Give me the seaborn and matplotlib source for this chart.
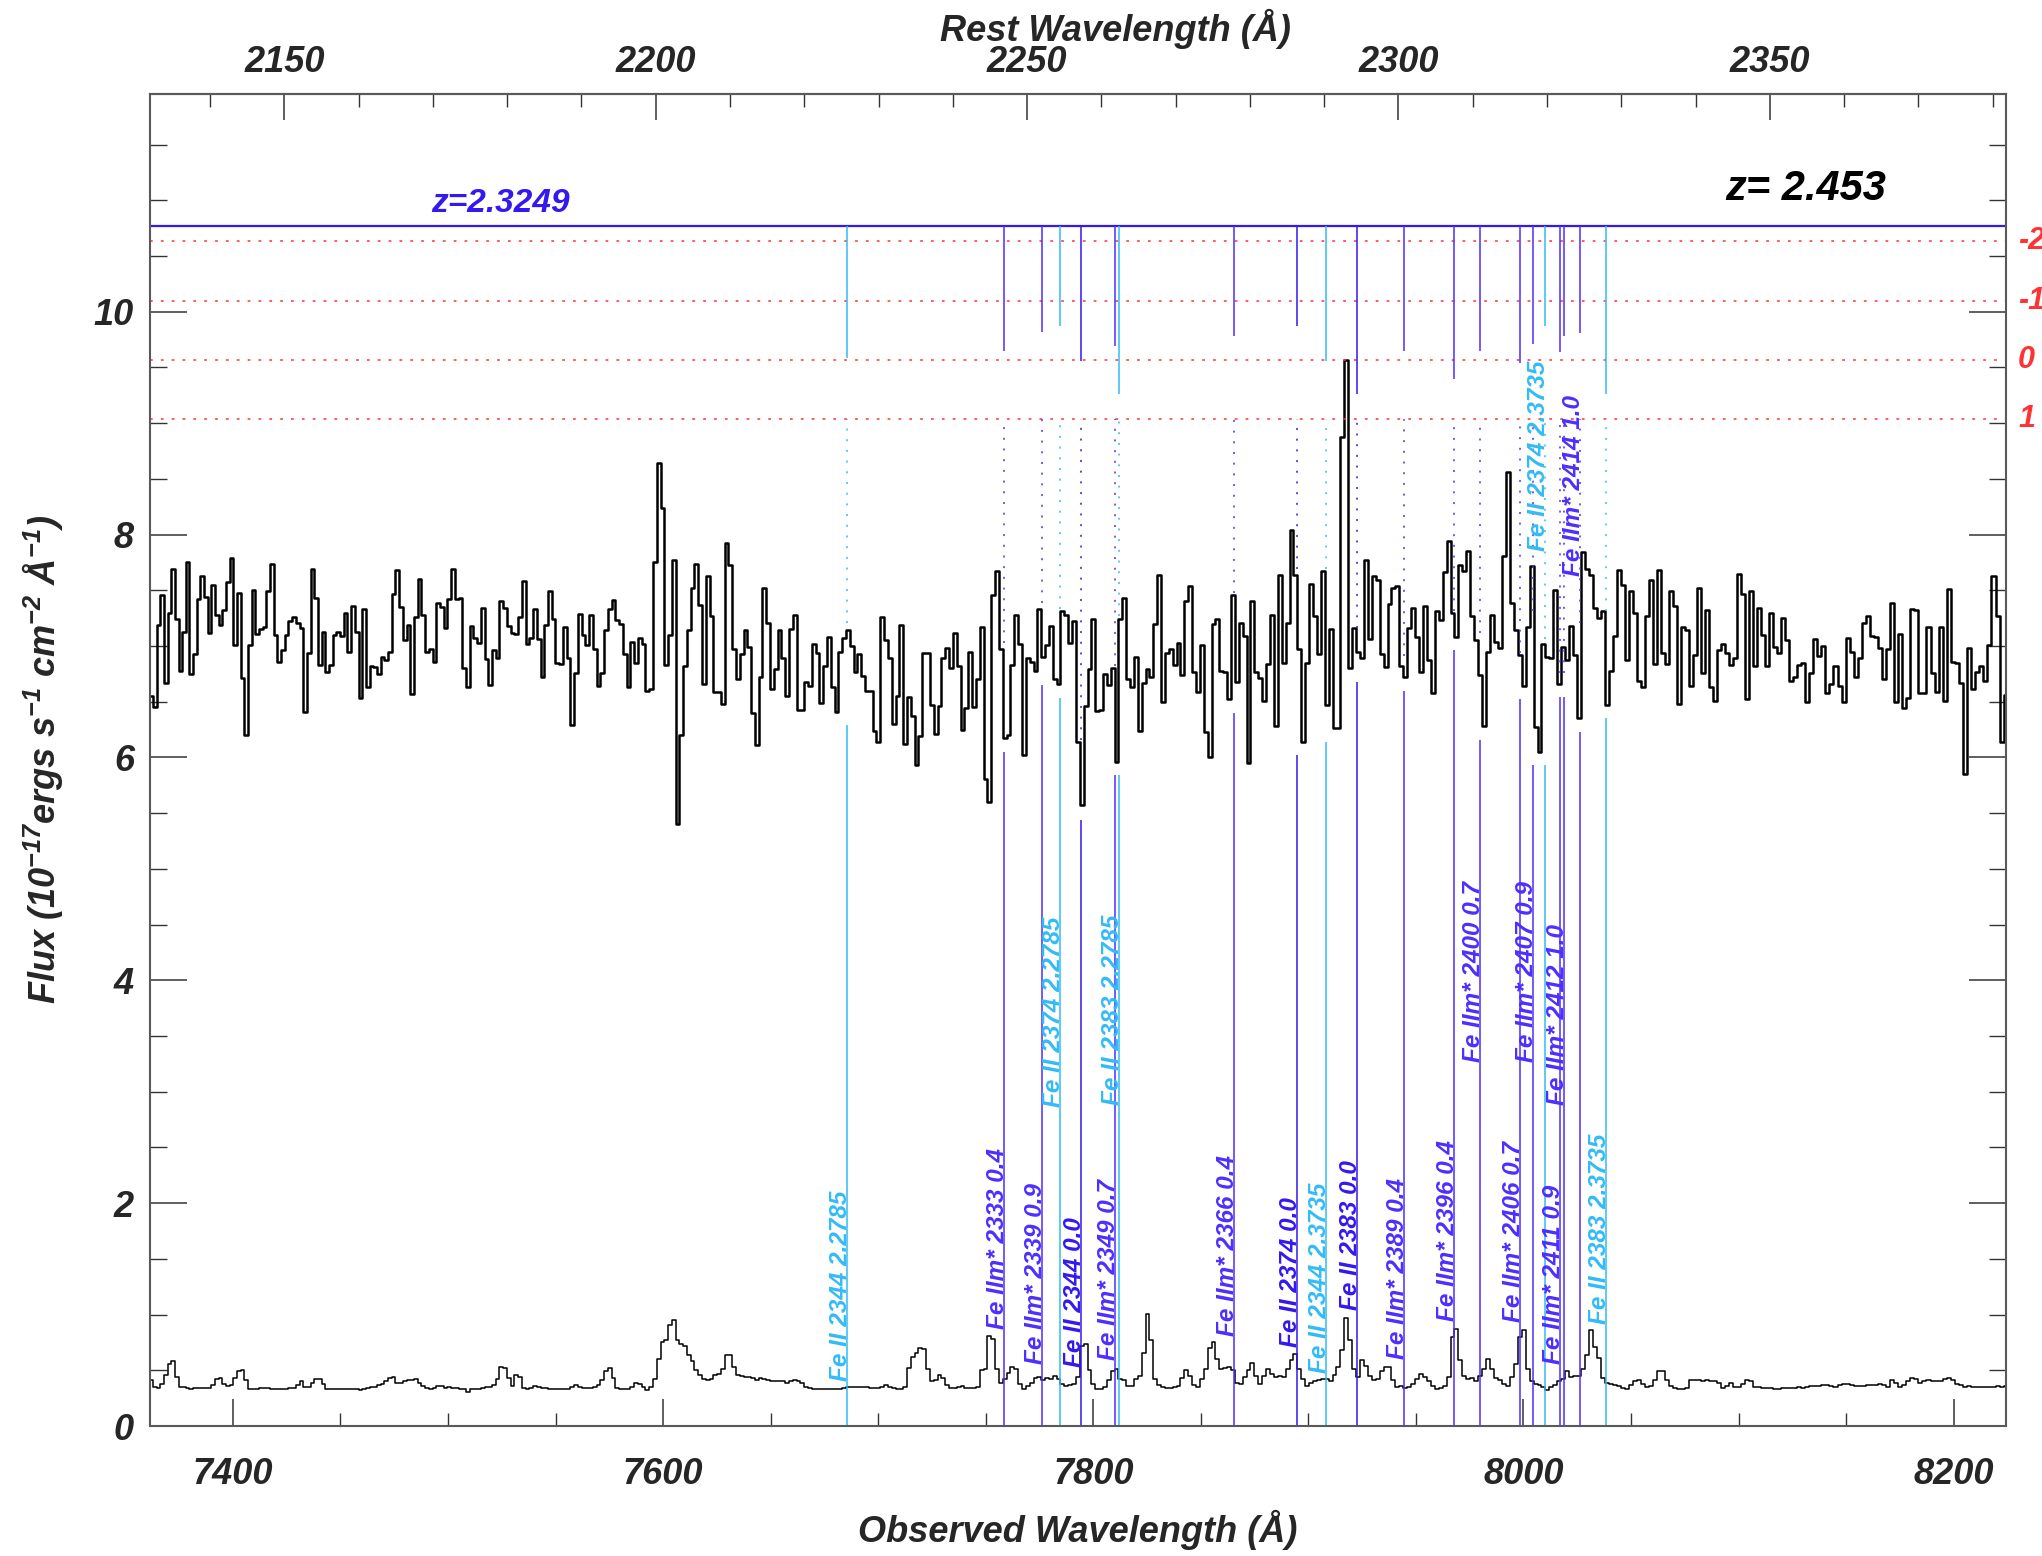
import numpy as np
import matplotlib
matplotlib.use('Agg')
import matplotlib.pyplot as plt
import matplotlib.transforms as mtransforms
from matplotlib.ticker import MultipleLocator
import seaborn as sns

sns.set_style('white')
# IDL look: Helvetica-like bold italic everywhere
plt.rcParams['font.family'] = ['Liberation Sans', 'DejaVu Sans']
plt.rcParams['font.weight'] = 'bold'
plt.rcParams['font.style'] = 'italic'
plt.rcParams['axes.labelweight'] = 'bold'
plt.rcParams['mathtext.fontset'] = 'custom'
plt.rcParams['mathtext.rm'] = 'Liberation Sans:bold:italic'
plt.rcParams['mathtext.it'] = 'Liberation Sans:bold:italic'
plt.rcParams['mathtext.bf'] = 'Liberation Sans:bold:italic'
plt.rcParams['mathtext.default'] = 'rm'

# ==========================================
# data
# ==========================================
Z_QSO = 2.453
Z_ABS = 2.3249
COEFF0 = np.log10(7362.0)   # SDSS style log-lambda grid
COEFF1 = 1e-4

flux = [
    6.55, 6.45, 7.19, 7.46, 6.67, 7.30, 7.69, 7.24, 6.78, 7.13,
    7.75, 6.75, 6.93, 7.42, 7.63, 7.44, 7.12, 7.55, 7.28, 7.19,
    7.32, 7.57, 7.79, 7.01, 7.48, 6.71, 6.20, 7.01, 7.50, 7.11,
    7.15, 7.17, 7.49, 7.74, 7.10, 6.86, 6.96, 7.10, 7.22, 7.26,
    7.21, 7.16, 6.41, 6.94, 7.69, 7.43, 6.83, 7.13, 6.77, 6.83,
    7.10, 7.13, 7.09, 7.30, 6.95, 7.36, 7.13, 6.53, 7.33, 6.63,
    6.82, 6.81, 6.75, 6.90, 6.87, 6.95, 7.47, 7.68, 7.35, 7.05,
    7.19, 6.57, 7.26, 7.60, 7.28, 6.95, 6.97, 6.86, 7.39, 7.35,
    7.16, 7.42, 7.69, 7.42, 7.43, 6.80, 6.63, 7.18, 7.07, 7.03,
    7.34, 6.88, 6.65, 6.96, 6.89, 7.40, 7.34, 7.18, 7.12, 7.11,
    7.26, 7.58, 7.02,
    7.07, 7.33, 7.06, 6.72, 7.19, 7.49, 7.24, 6.85, 6.84, 7.17,
    6.89, 6.29, 6.76, 7.29, 7.10, 7.01, 7.28, 6.97, 6.64, 6.76,
    7.14, 7.33, 7.41, 7.23, 7.20, 6.93, 6.63, 7.04, 6.85, 7.07,
    7.02, 6.60, 6.61, 7.75, 8.64, 8.24, 6.83, 7.10, 7.77, 5.40,
    6.20, 6.82, 7.14, 7.52, 7.74, 7.37, 6.66, 7.63, 7.27, 6.59,
    6.59, 6.48, 7.92, 7.73, 6.97, 6.70, 6.93, 7.14, 6.99, 6.40,
    6.11, 6.72, 7.52, 7.21, 6.61, 6.79, 7.14, 6.89, 6.55, 7.15,
    7.28, 6.43, 6.43, 6.68, 6.64, 7.02, 6.94, 6.49, 6.82, 7.08,
    6.63, 6.41, 6.95, 7.07, 7.14, 7.00, 6.77, 6.93, 6.73, 6.60,
    6.60, 6.24, 6.14, 7.26, 7.05, 6.89, 6.30, 6.55, 7.19, 6.12,
    6.54,
    6.37, 5.93, 6.19, 6.94, 6.94, 6.47, 6.21, 6.46, 6.89, 6.98,
    6.80, 7.12, 6.82, 6.25, 6.44, 6.95, 6.45, 6.70, 7.17, 5.81,
    5.60, 7.46, 7.67, 6.97, 6.17, 6.20, 6.83, 7.28, 7.02, 6.02,
    6.89, 6.86, 6.78, 7.33, 6.90, 7.01, 7.18, 6.70, 6.66, 7.31,
    7.28, 7.03, 7.22, 6.14, 5.57, 6.46, 6.79, 7.24, 6.42, 6.43,
    6.75, 6.65, 6.80, 5.96, 7.24, 7.43, 6.70, 6.63, 6.90, 6.24,
    6.67, 6.79, 6.72, 7.20, 7.64, 6.50, 6.94, 6.97, 6.83, 7.03,
    6.74, 7.40, 7.54, 6.77, 6.59, 7.01, 6.23, 6.00, 7.20, 7.24,
    6.78, 6.77, 6.52, 7.46, 6.68, 7.21, 7.09, 5.95, 7.40, 6.77,
    6.71, 6.51, 6.84, 7.28, 6.28, 7.64, 6.85, 7.21,
    8.04, 7.64, 6.97, 6.14, 6.85, 7.56, 7.27, 6.93, 7.67, 6.47,
    7.15, 6.26, 6.26, 8.88, 9.57, 6.80, 7.16, 6.95, 6.89, 7.77,
    7.06, 7.63, 7.59, 6.93, 6.81, 7.38, 7.52, 7.54, 6.82, 6.72,
    7.16, 7.34, 7.08, 6.77, 7.36, 6.87, 6.58, 7.31, 7.23, 7.66,
    7.94, 7.30, 7.08, 7.73, 7.67, 7.85, 7.27, 7.05, 6.74, 6.28,
    6.95, 7.28, 7.04, 6.98, 7.81, 8.56, 7.39, 7.14, 6.92, 6.64,
    7.17, 7.72, 6.27, 6.05, 7.02, 6.90, 6.89, 7.50, 6.66, 6.99,
    6.87, 7.18, 6.92, 6.35, 7.84, 7.69, 7.64, 7.34, 7.25, 7.31,
    6.47, 6.78, 7.09, 7.68, 7.55, 6.87, 7.49, 7.30, 6.69, 6.63,
    7.27, 7.59, 6.84, 7.68, 6.94, 6.84, 7.49,
    7.36, 6.48, 7.17, 7.14, 6.64, 6.92, 7.52, 6.76, 7.32, 6.63,
    6.51, 6.96, 7.02, 6.94, 6.83, 6.89, 7.65, 7.47, 6.52, 7.49,
    6.82, 7.34, 7.10, 6.82, 7.30, 6.99, 6.94, 7.25, 7.05, 6.69,
    6.72, 6.83, 6.85, 6.50, 6.76, 7.06, 6.91, 7.00, 6.58, 6.66,
    6.82, 6.64, 6.50, 7.07, 6.95, 6.72, 6.89, 7.21, 7.27, 7.09,
    7.08, 6.98, 6.70, 6.97, 7.39, 6.50, 7.11, 6.44, 6.53, 7.33,
    7.32, 6.58, 6.58, 7.17, 6.76, 6.59, 7.17, 6.51, 7.51, 6.86,
    6.85, 6.67, 5.85, 6.98, 6.61, 6.77, 6.82, 6.69, 7.01, 7.63,
    7.27, 6.14, 6.56,
]

flux_err = [
    0.41, 0.35, 0.34, 0.38, 0.46, 0.56, 0.58, 0.44, 0.35, 0.35,
    0.34, 0.33, 0.34, 0.34, 0.34, 0.34, 0.34, 0.37, 0.42, 0.43,
    0.38, 0.36, 0.37, 0.43, 0.49, 0.50, 0.41, 0.33, 0.33, 0.33,
    0.34, 0.34, 0.34, 0.33, 0.33, 0.33, 0.33, 0.33, 0.34, 0.34,
    0.37, 0.40, 0.35, 0.35, 0.39, 0.42, 0.42, 0.38, 0.33, 0.33,
    0.33, 0.33, 0.33, 0.33, 0.33, 0.33, 0.33, 0.32, 0.33, 0.34,
    0.35, 0.35, 0.37, 0.38, 0.40, 0.43, 0.44, 0.39, 0.39, 0.40,
    0.41, 0.41, 0.42, 0.39, 0.36, 0.34, 0.33, 0.34, 0.36, 0.36,
    0.34, 0.35, 0.34, 0.34, 0.33, 0.33, 0.31, 0.33, 0.33, 0.33,
    0.34, 0.35, 0.35, 0.37, 0.42, 0.53, 0.52, 0.43, 0.36, 0.46,
    0.44, 0.34, 0.33, 0.34, 0.36, 0.35, 0.34, 0.34, 0.33, 0.33,
    0.33, 0.33, 0.33,
    0.33,
    0.35, 0.37, 0.35, 0.34, 0.34, 0.34, 0.35, 0.37, 0.41, 0.49,
    0.52, 0.43, 0.34, 0.33, 0.33, 0.33, 0.35, 0.39, 0.38, 0.35,
    0.32, 0.35, 0.42, 0.60, 0.75, 0.77, 0.91, 0.95, 0.77, 0.74,
    0.72, 0.64, 0.58, 0.50, 0.46, 0.42, 0.41, 0.42, 0.46, 0.47,
    0.51, 0.64, 0.64, 0.53, 0.46, 0.45, 0.44, 0.44, 0.43, 0.41,
    0.43, 0.42, 0.41, 0.40, 0.40, 0.40, 0.40, 0.39, 0.40, 0.41,
    0.40, 0.39, 0.35, 0.34, 0.33, 0.33, 0.33, 0.33, 0.33, 0.33,
    0.33, 0.33,
    0.34, 0.35, 0.35, 0.35, 0.35, 0.35, 0.35, 0.34, 0.34, 0.34, 0.35,
    0.37, 0.35, 0.34, 0.33, 0.33, 0.35, 0.52, 0.62, 0.66, 0.70,
    0.69, 0.51, 0.40, 0.41, 0.46, 0.43, 0.37, 0.34, 0.34, 0.35,
    0.36, 0.34, 0.34,
    0.34, 0.35,
    0.50, 0.51, 0.81, 0.78, 0.51, 0.39, 0.42, 0.48, 0.53, 0.51,
    0.38, 0.33, 0.36, 0.39, 0.43, 0.44, 0.41, 0.43, 0.42,
    0.45, 0.42, 0.38, 0.36, 0.37, 0.38, 0.44, 0.72, 0.74, 0.50,
    0.38, 0.33, 0.33, 0.35, 0.41, 0.49, 0.51, 0.42, 0.41, 0.36,
    0.36, 0.42, 0.45, 0.66, 1.01, 0.77, 0.42, 0.37, 0.35, 0.34,
    0.34, 0.35, 0.36, 0.43, 0.50, 0.45, 0.37, 0.35, 0.42, 0.51,
    0.70, 0.75, 0.60, 0.51, 0.52, 0.53, 0.50, 0.39, 0.38, 0.44,
    0.50, 0.57, 0.45, 0.38, 0.45, 0.51, 0.47, 0.44, 0.45, 0.44,
    0.51, 0.59, 0.65, 0.51, 0.42, 0.36, 0.39, 0.40, 0.41, 0.42,
    0.42, 0.40, 0.46, 0.53, 0.68, 0.97, 0.77, 0.51, 0.44, 0.59,
    0.54, 0.45, 0.41, 0.42, 0.49, 0.53, 0.53, 0.41, 0.35, 0.36,
    0.34, 0.35, 0.38, 0.42, 0.47, 0.44, 0.40, 0.36, 0.33,
    0.34, 0.36, 0.44, 0.80, 0.87, 0.59, 0.45, 0.42, 0.43, 0.40,
    0.45, 0.51, 0.60, 0.51, 0.43, 0.41, 0.38, 0.36, 0.44, 0.56,
    0.80, 0.86, 0.51, 0.40, 0.38, 0.37, 0.35, 0.32, 0.35, 0.37,
    0.40, 0.42, 0.49, 0.44, 0.45, 0.45, 0.51, 0.64, 0.86, 0.71,
    0.61, 0.43, 0.39, 0.38, 0.37, 0.36,
    0.34, 0.33, 0.37, 0.40, 0.41, 0.38, 0.35, 0.36, 0.41, 0.49,
    0.49, 0.41, 0.36, 0.34, 0.33, 0.33, 0.34, 0.41, 0.41, 0.41,
    0.40, 0.41, 0.40, 0.40, 0.39, 0.34, 0.36, 0.39, 0.35, 0.35,
    0.38, 0.41, 0.40, 0.35, 0.35, 0.34, 0.34, 0.34, 0.33, 0.33,
    0.34, 0.34, 0.34, 0.34, 0.35, 0.34, 0.35, 0.36, 0.36, 0.36,
    0.37, 0.37, 0.36, 0.35, 0.37, 0.38, 0.38, 0.37, 0.36, 0.36,
    0.36, 0.37, 0.37, 0.37, 0.38, 0.37, 0.35, 0.41, 0.39, 0.35,
    0.37, 0.40, 0.43, 0.42, 0.39, 0.40, 0.41, 0.40, 0.40, 0.40,
    0.42, 0.43, 0.41, 0.38, 0.37, 0.35, 0.36, 0.35, 0.35, 0.35,
    0.35, 0.35, 0.35, 0.36, 0.35, 0.36,
]

# absorption lines: rest wavelength, redshift, label
line_rest = [2344.2140, 2333.5156, 2338.7248, 2374.4612, 2344.2140, 2349.0223, 2382.7652,
             2365.5518, 2374.4612, 2344.2140, 2382.7652, 2389.3582, 2396.3559, 2399.9728,
             2405.6164, 2407.3942, 2374.4612, 2411.2433, 2411.8023, 2414.0450, 2382.7652]
line_z = [2.2785, 2.3249, 2.3249, 2.2785, 2.3249, 2.3249, 2.2785,
          2.3249, 2.3249, 2.3735, 2.3249, 2.3249, 2.3249, 2.3249,
          2.3249, 2.3249, 2.3735, 2.3249, 2.3249, 2.3249, 2.3735]
line_label = ['Fe II 2344 2.2785', 'Fe IIm* 2333 0.4', 'Fe IIm* 2339 0.9', 'Fe II 2374 2.2785',
              'Fe II 2344 0.0', 'Fe IIm* 2349 0.7', 'Fe II 2383 2.2785', 'Fe IIm* 2366 0.4',
              'Fe II 2374 0.0', 'Fe II 2344 2.3735', 'Fe II 2383 0.0', 'Fe IIm* 2389 0.4',
              'Fe IIm* 2396 0.4', 'Fe IIm* 2400 0.7', 'Fe IIm* 2406 0.7', 'Fe IIm* 2407 0.9',
              'Fe II 2374 2.3735', 'Fe IIm* 2411 0.9', 'Fe IIm* 2412 1.0', 'Fe IIm* 2414 1.0',
              'Fe II 2383 2.3735']
# marker pieces (flux units)
tick_end = [9.58, 9.65, 9.82, 9.87, 9.56, 9.69, 9.26, 9.78, 9.87, 9.56, 9.26,
            9.65, 9.40, 9.65, 9.54, 9.71, 9.87, 9.64, 9.78, 9.81, 9.26]
dot_end = [7.21, 7.03, 7.39, 7.33, 6.16, 6.82, 7.27, 7.48, 7.69, 7.69, 7.16,
           6.91, 7.31, 7.12, 6.94, 7.31, 7.06, 6.76, 6.76, 7.21, 7.31]
solid_top = [6.29, 6.05, 6.65, 6.53, 5.44, 5.84, 5.84, 6.40, 6.02, 6.14, 6.68,
             6.60, 6.96, 6.16, 6.52, 5.93, 5.93, 6.54, 6.54, 6.23, 6.35]
label_y = [0.40, 0.87, 0.56, 2.86, 0.53, 0.59, 2.88, 0.81, 0.71, 0.48, 1.04,
           0.60, 0.94, 3.27, 0.93, 3.27, 7.85, 0.56, 2.88, 7.63, 0.92]

z_line_y = 10.77
n_levels = [10.63, 10.10, 9.57, 9.04]
n_labels = ['-2', '-1', '0', '1']

BLUE = '#3318f0'
BLUE_EXC = '#4c2eff'
CYAN = '#33bbf5'
RED = '#ff3333'

# ==========================================
# plot
# ==========================================
wave = 10 ** (COEFF0 + COEFF1 * np.arange(len(flux)))

fig = plt.figure(figsize=(20.42, 15.56), dpi=100)
ax = fig.add_axes([0.0735, 0.0835, 0.9087, 0.8562])

sns.lineplot(x=wave, y=flux, drawstyle='steps-mid', color='black', lw=1.8,
             estimator=None, sort=False, ax=ax)
sns.lineplot(x=wave[:len(flux_err)], y=flux_err, drawstyle='steps-mid', color='black',
             lw=1.1, estimator=None, sort=False, ax=ax)

ax.axhline(z_line_y, color=BLUE, lw=1.6)
for lev in n_levels:
    ax.axhline(lev, color=RED, lw=1.1, ls=(0, (1.8, 5.3)))

trans = mtransforms.blended_transform_factory(ax.transAxes, ax.transData)
for lev, lab in zip(n_levels, n_labels):
    ax.text(1.0067, lev, lab, transform=trans, color=RED, fontsize=22,
            fontweight='bold', ha='left', va='center', clip_on=False)

for i in range(len(line_rest)):
    xw = line_rest[i] * (1 + line_z[i])
    if abs(line_z[i] - Z_ABS) > 1e-4:
        c = CYAN
    elif 'm*' in line_label[i]:
        c = BLUE_EXC
    else:
        c = BLUE
    ax.vlines(xw, tick_end[i], z_line_y, color=c, lw=1.1)
    ax.vlines(xw, dot_end[i], n_levels[3], color=c, lw=1.1, linestyles=[(0, (1.3, 5.7))])
    ax.vlines(xw, 0, solid_top[i], color=c, lw=1.1)
    ax.text(xw, label_y[i], line_label[i], rotation=90, rotation_mode='anchor',
            ha='left', va='baseline', color=c, fontsize=17.5, fontweight='bold')

ax.text(7492, 10.97, 'z=2.3249', color=BLUE, fontsize=24, fontweight='bold',
        ha='left', va='center')
ax.text(8094, 11.10, 'z= 2.453', color='black', fontsize=30, fontweight='bold',
        ha='left', va='center')

ax.set_xlim(7361.5, 8224.2)
ax.set_ylim(0, 11.955)

ax.xaxis.set_major_locator(MultipleLocator(200))
ax.xaxis.set_minor_locator(MultipleLocator(50))
ax.yaxis.set_major_locator(MultipleLocator(2))
ax.yaxis.set_minor_locator(MultipleLocator(0.5))
ax.tick_params(axis='x', which='both', direction='in', top=False, bottom=True,
               labelsize=26, pad=22, color='0.2')
ax.tick_params(axis='x', which='major', length=19.4, width=1.1)
ax.tick_params(axis='x', which='minor', length=9.4, width=1.0)
ax.tick_params(axis='y', which='both', direction='in', left=True, right=True,
               labelsize=26, pad=11.5, color='0.2')
ax.tick_params(axis='y', which='major', length=26.6, width=1.1)
ax.tick_params(axis='y', which='minor', length=12, width=1.0)

for sp in ax.spines.values():
    sp.set_color('0.35')
    sp.set_linewidth(1.5)

secax = ax.secondary_xaxis('top', functions=(lambda x: x / (1 + Z_QSO),
                                             lambda x: x * (1 + Z_QSO)))
secax.xaxis.set_major_locator(MultipleLocator(50))
secax.xaxis.set_minor_locator(MultipleLocator(10))
secax.tick_params(which='both', direction='in', labelsize=26, pad=10, color='0.2')
secax.tick_params(which='major', length=18.7, width=1.1)
secax.tick_params(which='minor', length=9.4, width=1.0)
secax.spines['top'].set_color('0.35')
secax.spines['top'].set_linewidth(1.5)

ax.set_xlabel('Observed Wavelength (Å)', fontsize=26, fontweight='bold')
ax.xaxis.set_label_coords(0.5, -0.063)
ax.set_ylabel(r'Flux (10$^{-17}$ergs s$^{-1}$ cm$^{-2}$ Å$^{-1}$)', fontsize=26,
              fontweight='bold')
ax.yaxis.set_label_coords(-0.046, 0.5)
fig.text(1115 / 2042, 1 - 29 / 1556, 'Rest Wavelength (Å)', fontsize=26,
         fontweight='bold', ha='center', va='center')

fig.savefig('out.png', dpi=100)
